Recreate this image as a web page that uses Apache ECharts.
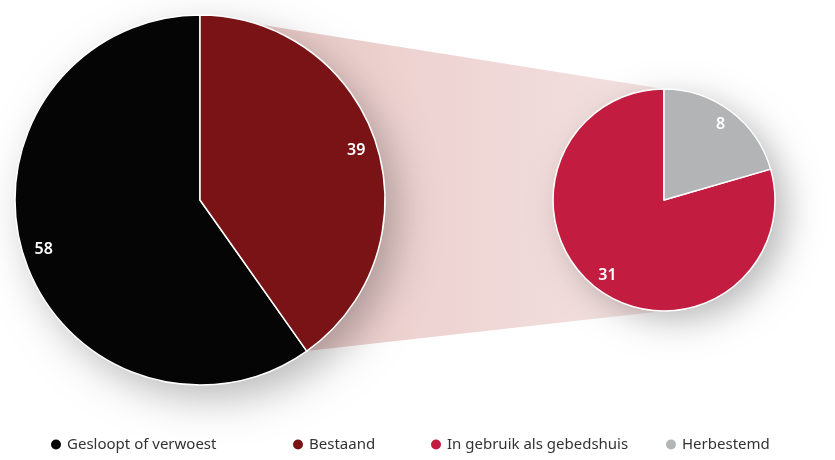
<!DOCTYPE html>
<html>
<head>
<meta charset="utf-8">
<style>
  html, body { margin: 0; padding: 0; background: #ffffff; }
  #chart { width: 835px; height: 460px; }
</style>
<script src="https://cdn.jsdelivr.net/npm/echarts@6/dist/echarts.min.js"></script>
</head>
<body>
<div id="chart"></div>
<script>
// Status of the buildings: total split, then breakdown of the existing ones
const mainNames = ['Gesloopt of verwoest', 'Bestaand'];
const mainValues = [58, 39];
const detailNames = ['In gebruik als gebedshuis', 'Herbestemd'];
const detailValues = [31, 8];

const mainColors = ['#050505', '#7a1315'];
const detailColors = ['#c21d41', '#b3b4b6'];

// Pie geometry
const bigCenter = [200, 200], bigRadius = 185;
const smallCenter = [664, 200], smallRadius = 111;

const FONT = '"Noto Sans", Lato, sans-serif';

const chart = echarts.init(document.getElementById('chart'), null, { renderer: 'canvas' });

function pieData(names, values, colors) {
  return names.map((n, i) => ({ name: n, value: values[i], itemStyle: { color: colors[i] } }));
}

// Wedge connecting the "Bestaand" slice to the detail pie
const bestaandShare = mainValues[1] / (mainValues[0] + mainValues[1]);
const theta = 2 * Math.PI * bestaandShare;
const wedgePoints = [
  [bigCenter[0], bigCenter[1] - bigRadius],
  [smallCenter[0], smallCenter[1] - smallRadius],
  [smallCenter[0], smallCenter[1] + smallRadius],
  [bigCenter[0] + bigRadius * Math.sin(theta), bigCenter[1] - bigRadius * Math.cos(theta)]
];

const labelStyle = (fs) => ({
  show: true,
  position: 'inside',
  color: '#ffffff',
  fontFamily: FONT,
  fontWeight: 600,
  fontSize: fs,
  formatter: '{c}'
});

const legendDefs = [
  { name: mainNames[0], left: 44, color: mainColors[0] },
  { name: mainNames[1], left: 286, color: mainColors[1] },
  { name: detailNames[0], left: 424, color: detailColors[0] },
  { name: detailNames[1], left: 659, color: detailColors[1] }
];

// a plain disc under each pie that only casts the soft drop shadow
function shadowDisc(center, radius, blur, off) {
  return {
    type: 'pie',
    center: center,
    radius: radius - 1,
    z: 1,
    silent: true,
    label: { show: false },
    labelLine: { show: false },
    itemStyle: {
      color: '#ffffff',
      shadowBlur: blur,
      shadowOffsetX: off[0],
      shadowOffsetY: off[1],
      shadowColor: 'rgba(0,0,0,0.28)'
    },
    data: [{ name: 'schaduw', value: 1 }]
  };
}

const option = {
  backgroundColor: '#ffffff',
  animation: false,
  legend: legendDefs.map(d => ({
    data: [{ name: d.name, itemStyle: { color: d.color } }],
    left: d.left,
    top: 432,
    icon: 'circle',
    itemWidth: 12,
    itemHeight: 12,
    itemGap: 6,
    selectedMode: false,
    textStyle: { color: '#333333', fontSize: 15, fontFamily: FONT }
  })),
  graphic: [{
    type: 'polygon',
    z: -1,
    shape: { points: wedgePoints },
    style: {
      fill: new echarts.graphic.LinearGradient(0, 0, 1, 0, [
        { offset: 0, color: '#e8c6c3' },
        { offset: 1, color: '#f3e2e1' }
      ])
    }
  }],
  series: [
    shadowDisc(bigCenter, bigRadius, 40, [12, 14]),
    shadowDisc(smallCenter, smallRadius, 34, [12, 10]),
    {
      type: 'pie',
      center: bigCenter,
      radius: bigRadius,
      z: 2,
      clockwise: false,
      startAngle: 90,
      label: { show: false },
      labelLine: { show: false },
      itemStyle: { borderColor: '#ffffff', borderWidth: 1.5 },
      emphasis: { disabled: true },
      data: pieData(mainNames, mainValues, mainColors)
    },
    {
      type: 'pie',
      center: smallCenter,
      radius: smallRadius,
      z: 2,
      clockwise: false,
      startAngle: 90,
      label: { show: false },
      labelLine: { show: false },
      itemStyle: { borderColor: '#ffffff', borderWidth: 1.5 },
      emphasis: { disabled: true },
      data: pieData(detailNames, detailValues, detailColors)
    },
    // transparent rings carrying the value labels near the outer edge
    {
      type: 'pie',
      center: bigCenter,
      radius: [bigRadius * 0.74, bigRadius],
      z: 3,
      clockwise: false,
      startAngle: 90,
      silent: true,
      label: labelStyle(16),
      labelLine: { show: false },
      data: pieData(mainNames, mainValues, ['rgba(0,0,0,0)', 'rgba(0,0,0,0)'])
    },
    {
      type: 'pie',
      center: smallCenter,
      radius: [smallRadius * 0.64, smallRadius],
      z: 3,
      clockwise: false,
      startAngle: 90,
      silent: true,
      label: labelStyle(16),
      labelLine: { show: false },
      data: pieData(detailNames, detailValues, ['rgba(0,0,0,0)', 'rgba(0,0,0,0)'])
    }
  ]
};

chart.setOption(option);
</script>
</body>
</html>
